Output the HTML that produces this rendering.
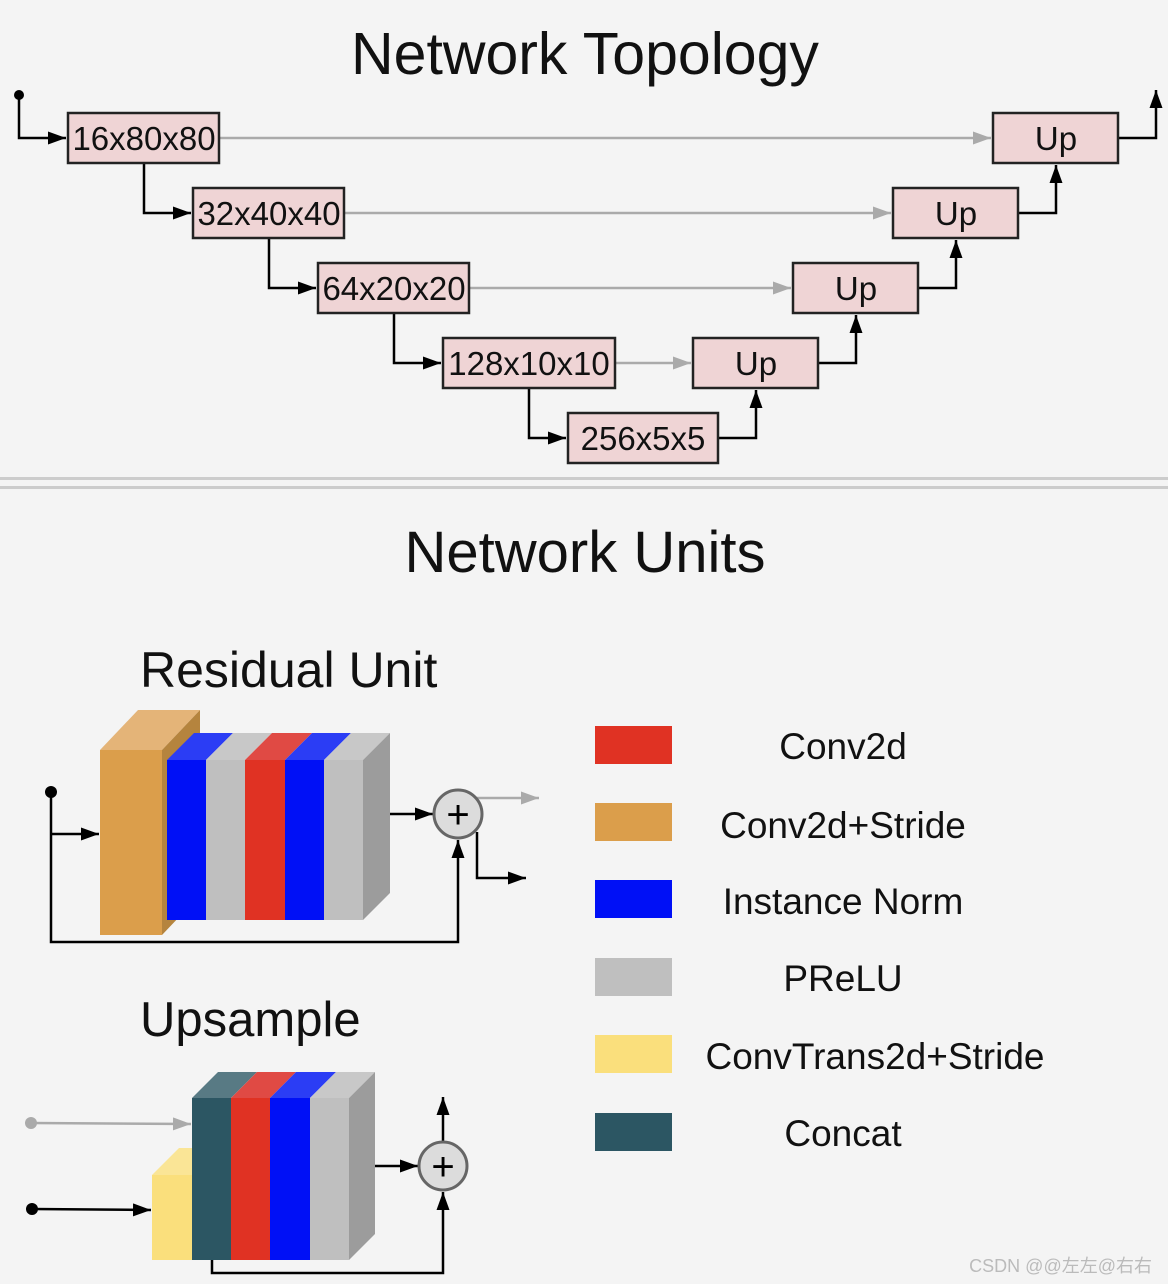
<!DOCTYPE html>
<html><head><meta charset="utf-8"><style>
html,body{margin:0;padding:0;background:#f4f4f4}
svg{display:block}
text{font-family:"Liberation Sans",sans-serif;fill:#111}
</style></head><body>
<svg width="1168" height="1284" viewBox="0 0 1168 1284" xmlns="http://www.w3.org/2000/svg">
<defs>
<marker id="ab" viewBox="0 0 10 10" refX="10" refY="5" markerWidth="18" markerHeight="13" orient="auto" markerUnits="userSpaceOnUse" preserveAspectRatio="none"><path d="M0,0L10,5L0,10z" fill="#000"/></marker>
<marker id="ag" viewBox="0 0 10 10" refX="10" refY="5" markerWidth="18" markerHeight="13" orient="auto" markerUnits="userSpaceOnUse" preserveAspectRatio="none"><path d="M0,0L10,5L0,10z" fill="#aaa"/></marker>
</defs>
<style>
.b{fill:#efd4d5;stroke:#222;stroke-width:2.5}
.l{fill:none;stroke:#000;stroke-width:2.5}
.g{fill:none;stroke:#aaa;stroke-width:2.5}
.bt{font-size:33px;text-anchor:middle}
</style>
<rect width="1168" height="1284" fill="#f4f4f4"/>
<text x="585" y="74" font-size="59" text-anchor="middle">Network Topology</text>
<circle cx="19" cy="95" r="5" fill="#000"/>
<path class="l" d="M19,95V138H66" marker-end="url(#ab)"/>
<path class="l" d="M144,163V213H191" marker-end="url(#ab)"/>
<path class="l" d="M269,238V288H316" marker-end="url(#ab)"/>
<path class="l" d="M394,313V363H441" marker-end="url(#ab)"/>
<path class="l" d="M529,388V438H566" marker-end="url(#ab)"/>
<path class="l" d="M718,438H756V390" marker-end="url(#ab)"/>
<path class="l" d="M818,363H856V315" marker-end="url(#ab)"/>
<path class="l" d="M918,288H956V240" marker-end="url(#ab)"/>
<path class="l" d="M1018,213H1056V165" marker-end="url(#ab)"/>
<path class="l" d="M1118,138H1156V90" marker-end="url(#ab)"/>
<path class="g" d="M219,138H991" marker-end="url(#ag)"/>
<path class="g" d="M344,213H891" marker-end="url(#ag)"/>
<path class="g" d="M469,288H791" marker-end="url(#ag)"/>
<path class="g" d="M615,363H691" marker-end="url(#ag)"/>
<rect class="b" x="68" y="113" width="151" height="50"/><text class="bt" x="144" y="150">16x80x80</text>
<rect class="b" x="193" y="188" width="151" height="50"/><text class="bt" x="269" y="225">32x40x40</text>
<rect class="b" x="318" y="263" width="151" height="50"/><text class="bt" x="394" y="300">64x20x20</text>
<rect class="b" x="443" y="338" width="172" height="50"/><text class="bt" x="529" y="375">128x10x10</text>
<rect class="b" x="568" y="413" width="150" height="50"/><text class="bt" x="643" y="450">256x5x5</text>
<rect class="b" x="693" y="338" width="125" height="50"/><text class="bt" x="756" y="375">Up</text>
<rect class="b" x="793" y="263" width="125" height="50"/><text class="bt" x="856" y="300">Up</text>
<rect class="b" x="893" y="188" width="125" height="50"/><text class="bt" x="956" y="225">Up</text>
<rect class="b" x="993" y="113" width="125" height="50"/><text class="bt" x="1056" y="150">Up</text>
<rect x="0" y="477" width="1168" height="3" fill="#ccc"/>
<rect x="0" y="486" width="1168" height="3" fill="#ccc"/>
<text x="585" y="572" font-size="58" text-anchor="middle">Network Units</text>
<text x="140" y="687" font-size="50">Residual Unit</text>
<text x="140" y="1036" font-size="49">Upsample</text>
<polygon points="100,750 138,710 200,710 162,750" fill="#e4b478"/>
<polygon points="162,750 200,710 200,895 162,935" fill="#b5843e"/>
<rect x="100" y="750" width="62" height="185" fill="#db9e4b"/>
<polygon points="167,760 194,733 233,733 206,760" fill="#2b3df5"/>
<polygon points="206,760 233,733 272,733 245,760" fill="#c8c8c8"/>
<polygon points="245,760 272,733 312,733 285,760" fill="#e04a44"/>
<polygon points="285,760 312,733 351,733 324,760" fill="#2b3df5"/>
<polygon points="324,760 351,733 390,733 363,760" fill="#c8c8c8"/>
<polygon points="363,760 390,733 390,893 363,920" fill="#9c9c9c"/>
<rect x="167" y="760" width="39" height="160" fill="#0010f6"/>
<rect x="206" y="760" width="39" height="160" fill="#bfbfbf"/>
<rect x="245" y="760" width="40" height="160" fill="#e03223"/>
<rect x="285" y="760" width="39" height="160" fill="#0010f6"/>
<rect x="324" y="760" width="39" height="160" fill="#bfbfbf"/>
<circle cx="51" cy="792" r="6" fill="#000"/>
<path class="l" d="M51,792V942H458V840" marker-end="url(#ab)"/>
<path class="l" d="M51,834H99" marker-end="url(#ab)"/>
<path class="l" d="M390,814H433" marker-end="url(#ab)"/>
<path class="g" d="M476,798H539" marker-end="url(#ag)"/>
<path class="l" d="M477,832V878H526" marker-end="url(#ab)"/>
<circle cx="458" cy="814" r="24" fill="#dcdcdc" stroke="#666" stroke-width="3"/>
<text x="458" y="828" font-size="40" text-anchor="middle" style="fill:#000">+</text>
<polygon points="152,1175 179,1148 219,1148 192,1175" fill="#fae596"/>
<rect x="152" y="1175" width="40" height="85" fill="#fadf7c"/>
<polygon points="192,1098 218,1072 257,1072 231,1098" fill="#587a84"/>
<polygon points="231,1098 257,1072 296,1072 270,1098" fill="#e04a44"/>
<polygon points="270,1098 296,1072 336,1072 310,1098" fill="#2b3df5"/>
<polygon points="310,1098 336,1072 375,1072 349,1098" fill="#c8c8c8"/>
<polygon points="349,1098 375,1072 375,1234 349,1260" fill="#9c9c9c"/>
<rect x="192" y="1098" width="39" height="162" fill="#2c5663"/>
<rect x="231" y="1098" width="39" height="162" fill="#e03223"/>
<rect x="270" y="1098" width="40" height="162" fill="#0010f6"/>
<rect x="310" y="1098" width="39" height="162" fill="#bfbfbf"/>
<circle cx="31" cy="1123" r="6" fill="#aaa"/>
<path class="g" d="M31,1123L191,1124" marker-end="url(#ag)"/>
<circle cx="32" cy="1209" r="6" fill="#000"/>
<path class="l" d="M32,1209L151,1210" marker-end="url(#ab)"/>
<path class="l" d="M212,1260V1273H443V1192" marker-end="url(#ab)"/>
<path class="l" d="M375,1166H418" marker-end="url(#ab)"/>
<path class="l" d="M443,1142V1097" marker-end="url(#ab)"/>
<circle cx="443" cy="1166" r="24" fill="#dcdcdc" stroke="#666" stroke-width="3"/>
<text x="443" y="1180" font-size="40" text-anchor="middle" style="fill:#000">+</text>
<rect x="595" y="726" width="77" height="38" fill="#e03223"/>
<rect x="595" y="803" width="77" height="38" fill="#db9e4b"/>
<rect x="595" y="880" width="77" height="38" fill="#0010f6"/>
<rect x="595" y="958" width="77" height="38" fill="#bfbfbf"/>
<rect x="595" y="1035" width="77" height="38" fill="#fadf7c"/>
<rect x="595" y="1113" width="77" height="38" fill="#2c5663"/>
<g font-size="37" text-anchor="middle">
<text x="843" y="759">Conv2d</text>
<text x="843" y="838">Conv2d+Stride</text>
<text x="843" y="914">Instance Norm</text>
<text x="843" y="991">PReLU</text>
<text x="875" y="1069">ConvTrans2d+Stride</text>
<text x="843" y="1146">Concat</text>
</g>
<text x="1152" y="1272" font-size="18" text-anchor="end" style="fill:#bbb;font-family:'Liberation Sans','Noto Sans CJK SC',sans-serif">CSDN @@左左@右右</text>
</svg>
</body></html>
